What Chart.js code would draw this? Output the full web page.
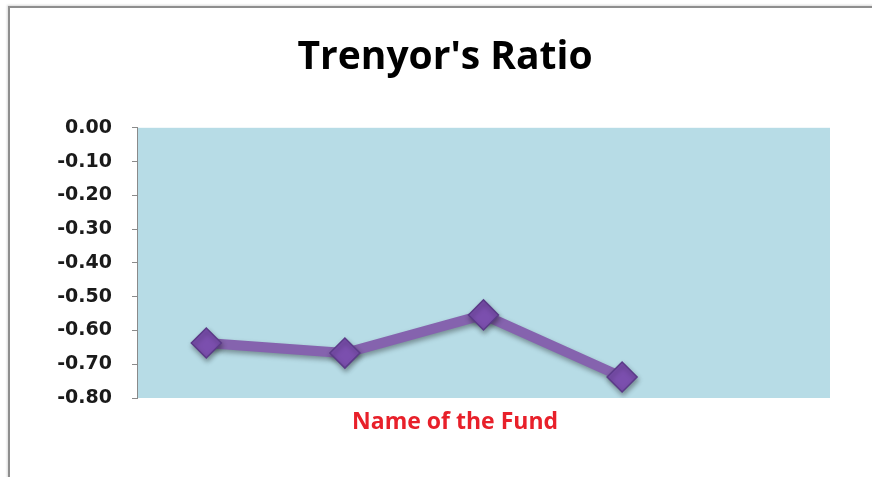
<!DOCTYPE html>
<html>
<head>
<meta charset="utf-8">
<script src="https://cdn.jsdelivr.net/npm/chart.js@4/dist/chart.umd.min.js"></script>
<style>
  html, body { margin: 0; padding: 0; background: #ffffff; }
  #wrap { position: relative; width: 872px; height: 477px; overflow: hidden; }
  #frame { position: absolute; left: 8px; top: 6px; width: 900px; height: 520px;
           border-left: 2px solid #8e8e8e; border-top: 2px solid #8e8e8e;
           box-shadow: -1px -1px 2px rgba(0,0,0,0.15); }
  canvas { position: absolute; left: 0; top: 0; }
</style>
</head>
<body>
<div id="wrap">
  <div id="frame"></div>
  <canvas id="c" width="872" height="477"></canvas>
</div>
<script>
// ---- data ----
const categories = ["", "", "", "", ""];
const treynorRatio = [-0.637, -0.667, -0.554, -0.738, null];
const yMin = -0.8;
const yMax = 0;
const yStep = 0.1;
const chartTitle = "Trenyor's Ratio";
const xAxisTitle = "Name of the Fund";

const plotBg = {
  id: 'plotBg',
  beforeDraw(chart) {
    const {ctx, chartArea: a} = chart;
    ctx.save();
    ctx.fillStyle = '#b7dce6';
    ctx.fillRect(a.left, a.top, a.right - a.left, a.bottom - a.top);
    ctx.restore();
  }
};
const shadow = {
  id: 'shadow',
  beforeDatasetsDraw(chart) {
    const ctx = chart.ctx;
    ctx.save();
    ctx.shadowColor = 'rgba(0,0,0,0.35)';
    ctx.shadowBlur = 5;
    ctx.shadowOffsetX = 1;
    ctx.shadowOffsetY = 3;
  },
  afterDatasetsDraw(chart) { chart.ctx.restore(); }
};
// x-axis title, placed slightly left of the plot centre as in the original
const xTitle = {
  id: 'xTitle',
  afterDraw(chart) {
    const {ctx, chartArea: a} = chart;
    ctx.save();
    ctx.fillStyle = '#e8202a';
    ctx.font = 'bold 23px "Open Sans"';
    ctx.textAlign = 'center';
    ctx.textBaseline = 'middle';
    ctx.fillText(xAxisTitle, a.left + (a.right - a.left) * 0.459, a.bottom + 24);
    ctx.restore();
  }
};

new Chart(document.getElementById('c'), {
  type: 'line',
  data: {
    labels: categories,
    datasets: [{
      data: treynorRatio,
      yAxisID: 'y',
      borderColor: '#8563ae',
      borderWidth: 10,
      pointStyle: 'rectRot',
      pointRadius: 15,
      pointBackgroundColor: '#7b4fae',
      pointBorderColor: '#5b3a88',
      pointBorderWidth: 1.5,
      tension: 0,
      spanGaps: false
    }]
  },
  plugins: [plotBg, shadow, xTitle],
  options: {
    responsive: false,
    animation: false,
    events: [],
    layout: { padding: { left: 18, right: 0, top: 0, bottom: 0 } },
    plugins: {
      legend: { display: false },
      tooltip: { enabled: false },
      title: {
        display: true,
        text: chartTitle,
        color: '#000000',
        font: { family: 'Open Sans', size: 39, weight: 'bold', lineHeight: 1.2 },
        padding: { top: 34, bottom: 47 }
      }
    },
    scales: {
      x: {
        offset: true,
        grid: { display: false, drawTicks: false },
        border: { display: false },
        ticks: { display: false },
        afterFit(scale) { scale.height = 79; }
      },
      y: {
        position: 'left',
        min: yMin,
        max: yMax,
        grid: { display: true, drawOnChartArea: false, drawTicks: true, tickLength: 5, color: '#8a8a8a' },
        border: { display: true, color: '#8a8a8a', width: 1 },
        ticks: {
          stepSize: yStep,
          color: '#1a1a1a',
          padding: 20,
          font: { family: 'DejaVu Sans', size: 19, weight: 'bold' },
          callback: (v) => (Math.abs(v) < 1e-9 ? 0 : v).toFixed(2)
        },
        afterFit(scale) { scale.width = 119; }
      },
      yRight: {
        position: 'right',
        display: true,
        min: yMin,
        max: yMax,
        grid: { display: false },
        border: { display: false },
        ticks: { display: false },
        afterFit(scale) { scale.width = 42; }
      }
    }
  }
});
</script>
</body>
</html>
